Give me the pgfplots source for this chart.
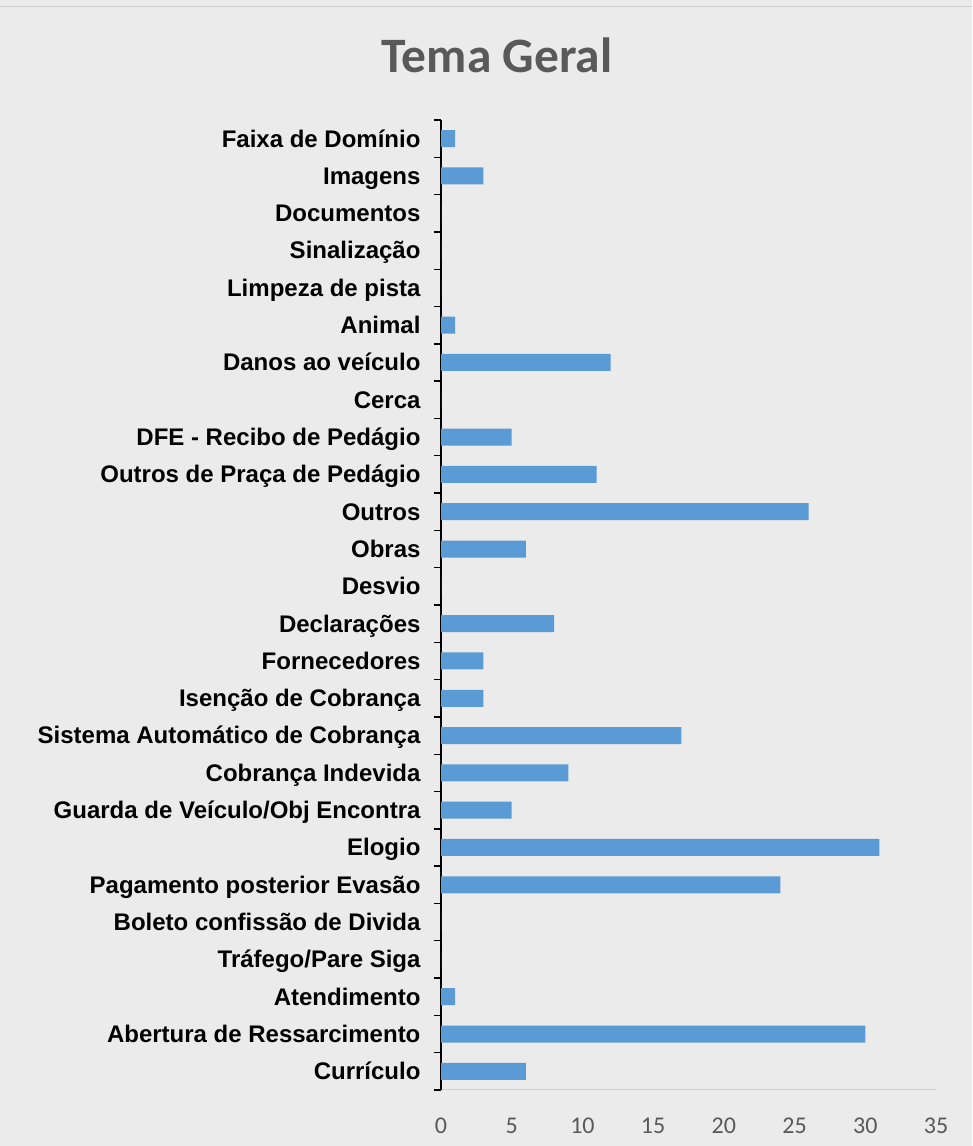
\documentclass[border=0pt]{standalone}
\usepackage{fontspec}
\setmainfont{Liberation Sans}
\newfontfamily\carlito{Carlito}
\usepackage{pgfplots}
\pgfplotsset{compat=1.18}
\definecolor{bgcol}{HTML}{EBEBEB}
\definecolor{barblue}{HTML}{5B9BD5}
\definecolor{txtgray}{HTML}{595959}
\definecolor{axgray}{HTML}{D0D0D0}
\begin{document}
\begin{tikzpicture}
\path[use as bounding box, fill=bgcol] (0,0) rectangle (972pt,1146pt);
\draw[axgray, line width=1pt] (0,1139pt) -- (972pt,1139pt);
\node[font=\carlito\bfseries\fontsize{49.5}{54}\selectfont, text=txtgray, anchor=base] at (497pt,1073pt) {Tema Geral};
\begin{axis}[
  at={(441pt,56pt)}, anchor=south west,
  width=495pt, height=970pt, scale only axis,
  xbar, bar width=17pt,
  xmin=0, xmax=35, ymin=-0.5, ymax=25.5,
  xtick={0,5,...,35},
  ytick={0,...,25},
  minor ytick={-0.5,0.5,...,25.5},
  yticklabels={Currículo, Abertura de Ressarcimento, Atendimento, Tráfego/Pare Siga, Boleto confissão de Divida, Pagamento posterior Evasão, Elogio, Guarda de Veículo/Obj Encontra, Cobrança Indevida, Sistema Automático de Cobrança, Isenção de Cobrança, Fornecedores, Declarações, Desvio, Obras, Outros, Outros de Praça de Pedágio, DFE - Recibo de Pedágio, Cerca, Danos ao veículo, Animal, Limpeza de pista, Sinalização, Documentos, Imagens, Faixa de Domínio},
  typeset ticklabels with strut,
  axis x line*=bottom, axis y line*=left,
  x axis line style={draw=axgray, line width=1pt},
  y axis line style={draw=black, line width=1.6pt},
  tick align=outside,
  major tick length=0pt,
  major tick style={draw=none},
  minor tick length=7pt,
  minor tick style={draw=black, line width=1.4pt},
  /pgf/number format/assume math mode=true,
  yticklabel style={font=\bfseries\fontsize{24}{27}\selectfont, text=black, xshift=-17pt, yshift=-3pt},
  xticklabel style={font=\carlito\fontsize{24}{28}\selectfont, text=txtgray, yshift=-20pt},
]
\addplot[fill=barblue, draw=none] coordinates {
(6,0) (30,1) (1,2) (0,3) (0,4) (24,5) (31,6) (5,7) (9,8) (17,9)
(3,10) (3,11) (8,12) (0,13) (6,14) (26,15) (11,16) (5,17) (0,18) (12,19)
(1,20) (0,21) (0,22) (0,23) (3,24) (1,25)
};
\end{axis}
\end{tikzpicture}
\end{document}
